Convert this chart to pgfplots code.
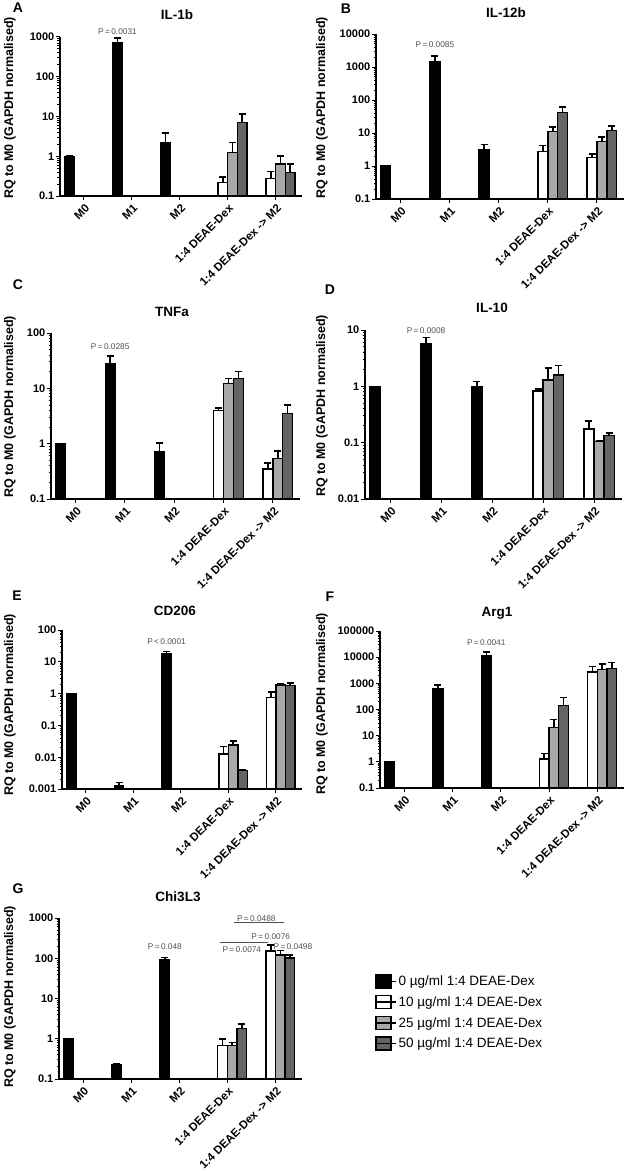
\documentclass[border=0pt]{standalone}
\usepackage{fontspec}
\setmainfont{Liberation Sans}
\usepackage{pgfplots}
\pgfplotsset{compat=1.18}
\definecolor{lightbar}{RGB}{168,168,168}
\definecolor{darkbar}{RGB}{100,100,100}
\definecolor{ptext}{RGB}{80,80,80}
\pgfplotsset{legsq/.style={legend image code/.code={\draw[##1, line width=1.6pt] (0pt,-6.5pt) rectangle (15pt,6.5pt); \path (0pt,0pt) -- (20pt,0pt);}}}
\tikzset{
  ttl/.style={font=\bfseries\fontsize{13.5}{14}\selectfont},
  ylab/.style={rotate=90, font=\bfseries\fontsize{12.5}{14}\selectfont},
  plet/.style={font=\bfseries\fontsize{14}{15}\selectfont},
  pval/.style={font=\fontsize{8.3}{9}\selectfont, text=ptext, inner sep=0pt},
}
% #1 left, #2 bottom, #3 width, #4 height, #5 extra options
\newcommand{\beginpanel}[5]{\begin{axis}[scale only axis, anchor=south west,
  at={(#1pt,-#2pt)}, width=#3pt, height=#4pt,
  ymode=log, log origin y=infty, xmin=-0.5, xmax=4.55,
  axis x line*=bottom, axis y line*=left, axis line style={line width=1.4pt, -},
  xtick={0,1,2,3,4}, xticklabels={M0,M1,M2,1:4 DEAE-Dex,1:4 DEAE-Dex -> M2},
  xticklabel style={rotate=45, anchor=east, font=\bfseries\fontsize{11.5}{12}\selectfont, inner sep=1pt, yshift=-7pt, xshift=-1pt},
  yticklabel style={font=\bfseries\fontsize{11}{12}\selectfont, inner sep=1.5pt},
  tick align=outside, major tick length=4pt, minor tick length=2.5pt, tick style={line width=1pt, black},
  ybar, bar width=0.2, clip=false, #5]}
% #1 fill, #2 shift, #3 coordinates
\newcommand{\bars}[3]{\addplot[fill=#1, draw=black, line width=1.4pt, bar shift=#2, legsq,
  error bars/.cd, y dir=plus, y explicit, error bar style={line width=1.6pt, black},
  error mark options={rotate=90, line width=1.6pt, mark size=3.5pt, black}] coordinates {#3};}
\begin{document}
\begin{tikzpicture}
\useasboundingbox (0,0) rectangle (625pt,-1171pt);

% ---------- A: IL-1b ----------
\beginpanel{60}{196}{242}{159}{ymin=0.1, ymax=1000, ytick={0.1,1,10,100,1000}, yticklabels={0.1,1,10,100,1000}}
\bars{black}{-0.3}{(0,1) +- (0,0) (1,700) +- (0,250) (2,2.2) +- (0,1.7)}
\bars{white}{-0.1}{(3,0.22) +- (0,0.08) (4,0.28) +- (0,0.13)}
\bars{lightbar}{0.1}{(3,1.26) +- (0,0.94) (4,0.64) +- (0,0.39)}
\bars{darkbar}{0.3}{(3,7.0) +- (0,4.5) (4,0.39) +- (0,0.24)}
\node[pval] at (axis cs:0.7,1340) {P\,=\,0.0031};
\end{axis}

% ---------- B: IL-12b ----------
\beginpanel{376}{199}{248}{165}{ymin=0.1, ymax=10000, ytick={0.1,1,10,100,1000,10000}, yticklabels={0.1,1,10,100,1000,10000}}
\bars{black}{-0.3}{(0,1) +- (0,0) (1,1400) +- (0,800) (2,3.2) +- (0,1.3)}
\bars{white}{-0.1}{(3,2.8) +- (0,1.4) (4,1.8) +- (0,0.5)}
\bars{lightbar}{0.1}{(3,11) +- (0,4.5) (4,5.5) +- (0,2)}
\bars{darkbar}{0.3}{(3,42) +- (0,20) (4,12) +- (0,4.5)}
\node[pval] at (axis cs:0.7,4640) {P\,=\,0.0085};
\end{axis}

% ---------- C: TNFa ----------
\beginpanel{51}{499}{249}{166}{ymin=0.1, ymax=100, ytick={0.1,1,10,100}, yticklabels={0.1,1,10,100}}
\bars{black}{-0.3}{(0,1) +- (0,0) (1,28) +- (0,10) (2,0.73) +- (0,0.3)}
\bars{white}{-0.1}{(3,4.0) +- (0,0.4) (4,0.35) +- (0,0.1)}
\bars{lightbar}{0.1}{(3,12.3) +- (0,2.7) (4,0.54) +- (0,0.2)}
\bars{darkbar}{0.3}{(3,15) +- (0,5) (4,3.5) +- (0,1.5)}
\node[pval] at (axis cs:0.7,56) {P\,=\,0.0285};
\end{axis}

% ---------- D: IL-10 ----------
\beginpanel{365}{499}{257}{169}{ymin=0.01, ymax=10, ytick={0.01,0.1,1,10}, yticklabels={0.01,0.1,1,10}}
\bars{black}{-0.3}{(0,1) +- (0,0) (1,5.8) +- (0,1.6) (2,0.97) +- (0,0.25)}
\bars{white}{-0.1}{(3,0.82) +- (0,0.08) (4,0.175) +- (0,0.07)}
\bars{lightbar}{0.1}{(3,1.3) +- (0,0.8) (4,0.105) +- (0,0.005)}
\bars{darkbar}{0.3}{(3,1.6) +- (0,0.75) (4,0.135) +- (0,0.012)}
\node[pval] at (axis cs:0.7,9.6) {P\,=\,0.0008};
\end{axis}

% ---------- E: CD206 ----------
\beginpanel{62}{789}{240}{159}{ymin=0.001, ymax=100, ytick={0.001,0.01,0.1,1,10,100}, yticklabels={0.001,0.01,0.1,1,10,100}}
\bars{black}{-0.3}{(0,1) +- (0,0) (1,0.0013) +- (0,0.0003) (2,18) +- (0,3)}
\bars{white}{-0.1}{(3,0.0125) +- (0,0.0095) (4,0.77) +- (0,0.35)}
\bars{lightbar}{0.1}{(3,0.024) +- (0,0.008) (4,1.85) +- (0,0.15)}
\bars{darkbar}{0.3}{(3,0.0038) +- (0,0.0002) (4,1.8) +- (0,0.4)}
\node[pval] at (axis cs:1.7,42) {P\,<\,0.0001};
\end{axis}

% ---------- F: Arg1 ----------
\beginpanel{380}{788}{244}{157}{ymin=0.1, ymax=100000, ytick={0.1,1,10,100,1000,10000,100000}, yticklabels={0.1,1,10,100,1000,10000,100000}}
\bars{black}{-0.3}{(0,1) +- (0,0) (1,620) +- (0,250) (2,11500) +- (0,4000)}
\bars{white}{-0.1}{(3,1.3) +- (0,0.8) (4,2700) +- (0,1700)}
\bars{lightbar}{0.1}{(3,21) +- (0,20) (4,3300) +- (0,2100)}
\bars{darkbar}{0.3}{(3,145) +- (0,140) (4,3700) +- (0,2500)}
\node[pval] at (axis cs:1.7,35000) {P\,=\,0.0041};
\end{axis}

% ---------- G: Chi3L3 ----------
\beginpanel{59}{1079}{243}{161}{ymin=0.1, ymax=1000, ytick={0.1,1,10,100,1000}, yticklabels={0.1,1,10,100,1000},
  legend style={at={(1.30,0.655)}, anchor=north west, draw=none, fill=none,
    font=\fontsize{13.5}{15}\selectfont, row sep=5.5pt, inner sep=0pt},
  legend cell align=left}
\bars{black}{-0.3}{(0,1) +- (0,0) (1,0.225) +- (0,0.01) (2,92) +- (0,12)}
\addlegendentry{0 µg/ml 1:4 DEAE-Dex}
\bars{white}{-0.1}{(3,0.68) +- (0,0.3) (4,150) +- (0,65)}
\addlegendentry{10 µg/ml 1:4 DEAE-Dex}
\bars{lightbar}{0.1}{(3,0.68) +- (0,0.12) (4,120) +- (0,35)}
\addlegendentry{25 µg/ml 1:4 DEAE-Dex}
\bars{darkbar}{0.3}{(3,1.8) +- (0,0.5) (4,102) +- (0,18)}
\addlegendentry{50 µg/ml 1:4 DEAE-Dex}
\node[pval] at (axis cs:1.7,190) {P\,=\,0.048};
\draw[ptext, line width=0.8pt] (axis cs:3.14,795) -- (axis cs:4.17,795);
\node[pval, anchor=south] at (axis cs:3.6,815) {P\,=\,0.0488};
\draw[ptext, line width=0.8pt] (axis cs:2.85,254) -- (axis cs:3.84,254);
\node[pval] at (axis cs:3.9,337) {P\,=\,0.0076};
\node[pval] at (axis cs:3.3,160) {P\,=\,0.0074};
\node[pval] at (axis cs:4.36,190) {P\,=\,0.0498};
\end{axis}

% titles
\node[ttl] at (177pt,-15pt) {IL-1b};
\node[ttl] at (506pt,-13pt) {IL-12b};
\node[ttl] at (172pt,-312pt) {TNFa};
\node[ttl] at (492pt,-308pt) {IL-10};
\node[ttl] at (175pt,-611pt) {CD206};
\node[ttl] at (497pt,-613pt) {Arg1};
\node[ttl] at (178pt,-897pt) {Chi3L3};
% y labels
\node[ylab] at (10pt,-108pt) {RQ to M0 (GAPDH normalised)};
\node[ylab] at (322pt,-108pt) {RQ to M0 (GAPDH normalised)};
\node[ylab] at (10pt,-407pt) {RQ to M0 (GAPDH normalised)};
\node[ylab] at (322pt,-406pt) {RQ to M0 (GAPDH normalised)};
\node[ylab] at (10pt,-705pt) {RQ to M0 (GAPDH normalised)};
\node[ylab] at (322pt,-704pt) {RQ to M0 (GAPDH normalised)};
\node[ylab] at (10pt,-997pt) {RQ to M0 (GAPDH normalised)};
% panel letters
\node[plet] at (18pt,-8pt) {A};
\node[plet] at (346pt,-9pt) {B};
\node[plet] at (18pt,-285pt) {C};
\node[plet] at (330pt,-290pt) {D};
\node[plet] at (17pt,-596pt) {E};
\node[plet] at (330pt,-597pt) {F};
\node[plet] at (18pt,-889pt) {G};
\end{tikzpicture}
\end{document}
